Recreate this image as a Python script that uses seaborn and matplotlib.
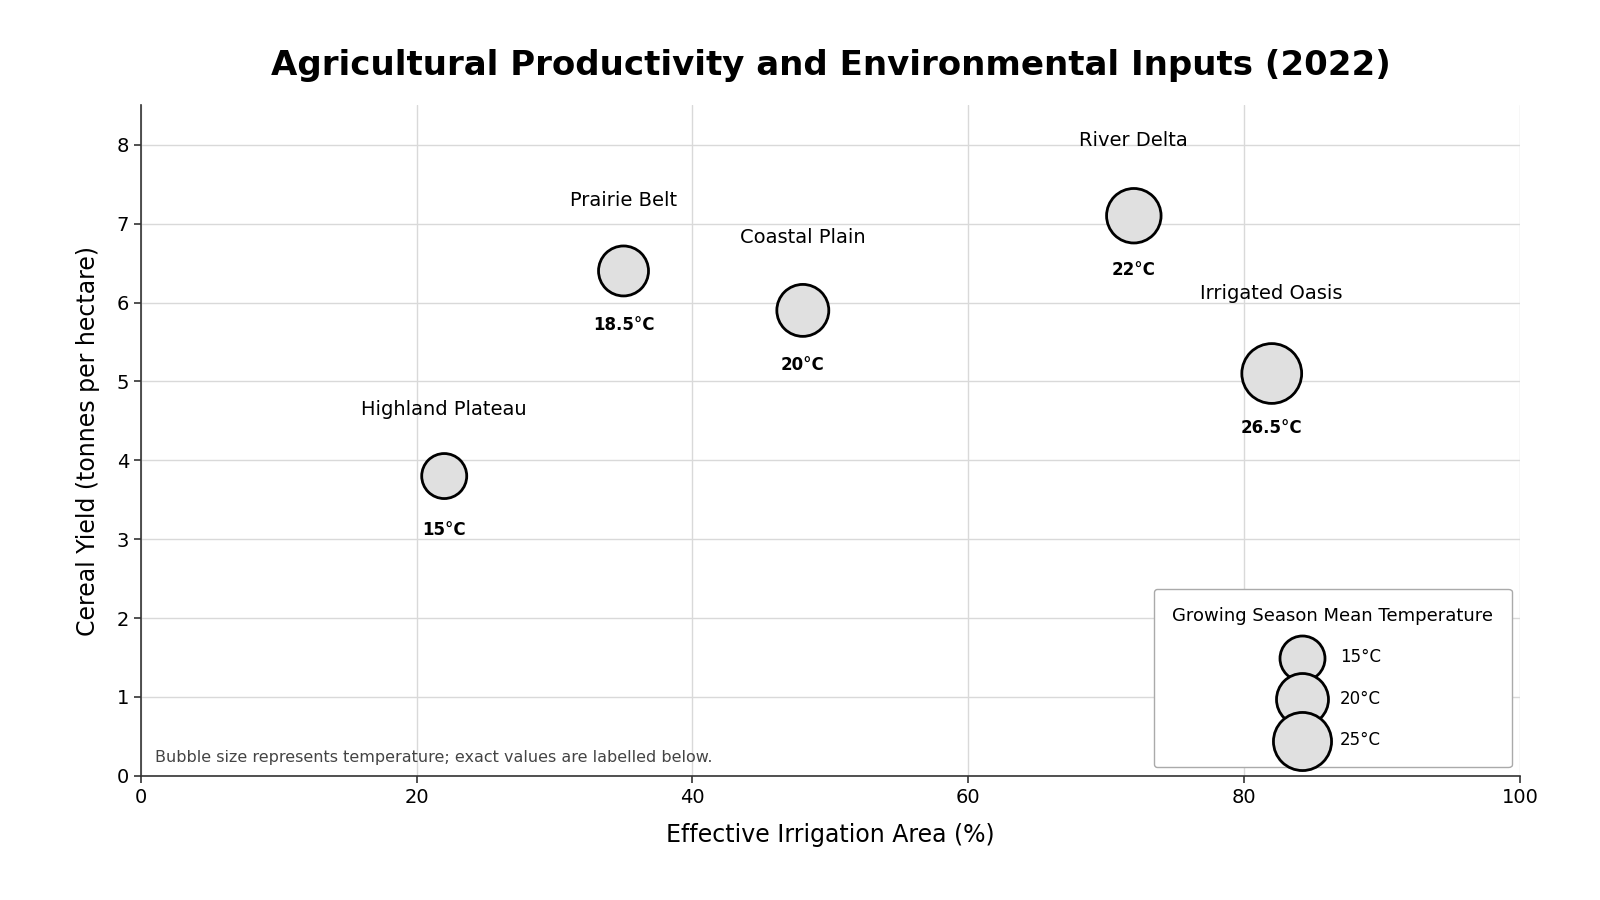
import matplotlib
matplotlib.use("Agg")
import matplotlib.pyplot as plt
import pandas as pd
import seaborn as sns

# values
regions = ["Highland Plateau", "Prairie Belt", "Coastal Plain", "River Delta", "Irrigated Oasis"]
irrigation = [22, 35, 48, 72, 82]
yield_t = [3.8, 6.4, 5.9, 7.1, 5.1]
temperature = [15, 18.5, 20, 22, 26.5]
legend_temps = [15, 20, 25]

SIZE_PER_DEG = 70  # marker area (pt^2) per degree C
FACE = "#e0e0e0"

df = pd.DataFrame({
    "region": regions,
    "irrigation": irrigation,
    "yield": yield_t,
    "temp": temperature,
})

sns.set_theme(style="whitegrid", rc={
    "axes.edgecolor": "#333333",
    "axes.linewidth": 1.2,
    "grid.color": "#d9d9d9",
    "grid.linewidth": 1.0,
    "xtick.bottom": True,
    "ytick.left": True,
    "xtick.color": "#333333",
    "ytick.color": "#333333",
    "xtick.labelcolor": "black",
    "ytick.labelcolor": "black",
    "text.color": "black",
    "axes.labelcolor": "black",
})
plt.rcParams["font.family"] = ["DejaVu Sans"]

fig, ax = plt.subplots(figsize=(16, 9), dpi=100)
fig.subplots_adjust(left=0.088, right=0.95, bottom=0.138, top=0.883)

sns.scatterplot(
    data=df, x="irrigation", y="yield", size="temp",
    sizes=(0, 30 * SIZE_PER_DEG), size_norm=(0, 30),
    color=FACE, edgecolor="black", linewidth=2, alpha=1,
    legend=False, ax=ax, zorder=3,
)

for _, row in df.iterrows():
    # region name above the bubble, temperature below
    ax.text(row["irrigation"], row["yield"] + 0.62 + row["temp"] * 0.015, row["region"],
            ha="center", va="center", fontsize=14)
    ax.annotate(f"{row['temp']:g}°C", (row["irrigation"], row["yield"]),
                xytext=(0, -39), textcoords="offset points",
                ha="center", va="center", fontsize=12, fontweight="bold")

ax.set_xlim(0, 100)
ax.set_ylim(0, 8.5)
ax.set_xticks([0, 20, 40, 60, 80, 100])
ax.set_yticks(range(0, 9))
ax.tick_params(labelsize=14, length=5, width=1.2)
sns.despine(ax=ax)

ax.set_xlabel("Effective Irrigation Area (%)", fontsize=17, labelpad=12)
ax.set_ylabel("Cereal Yield (tonnes per hectare)", fontsize=17, labelpad=12)
ax.set_title("Agricultural Productivity and Environmental Inputs (2022)",
             fontsize=24.5, fontweight="bold", pad=22)

handles = [
    ax.scatter([], [], s=t * SIZE_PER_DEG, color=FACE, edgecolor="black", linewidth=2)
    for t in legend_temps
]
leg = ax.legend(handles, [f"{t}°C" for t in legend_temps],
                title="Growing Season Mean Temperature", loc="lower right",
                fontsize=12, title_fontsize=13, labelspacing=1.4,
                handletextpad=1.3, borderpad=1.1, frameon=True, framealpha=1)
leg.get_frame().set_edgecolor("#aaaaaa")

ax.text(0.01, 0.027, "Bubble size represents temperature; exact values are labelled below.",
        transform=ax.transAxes, fontsize=11.5, color="#444444", va="center")

fig.savefig("out.png", dpi=100)
